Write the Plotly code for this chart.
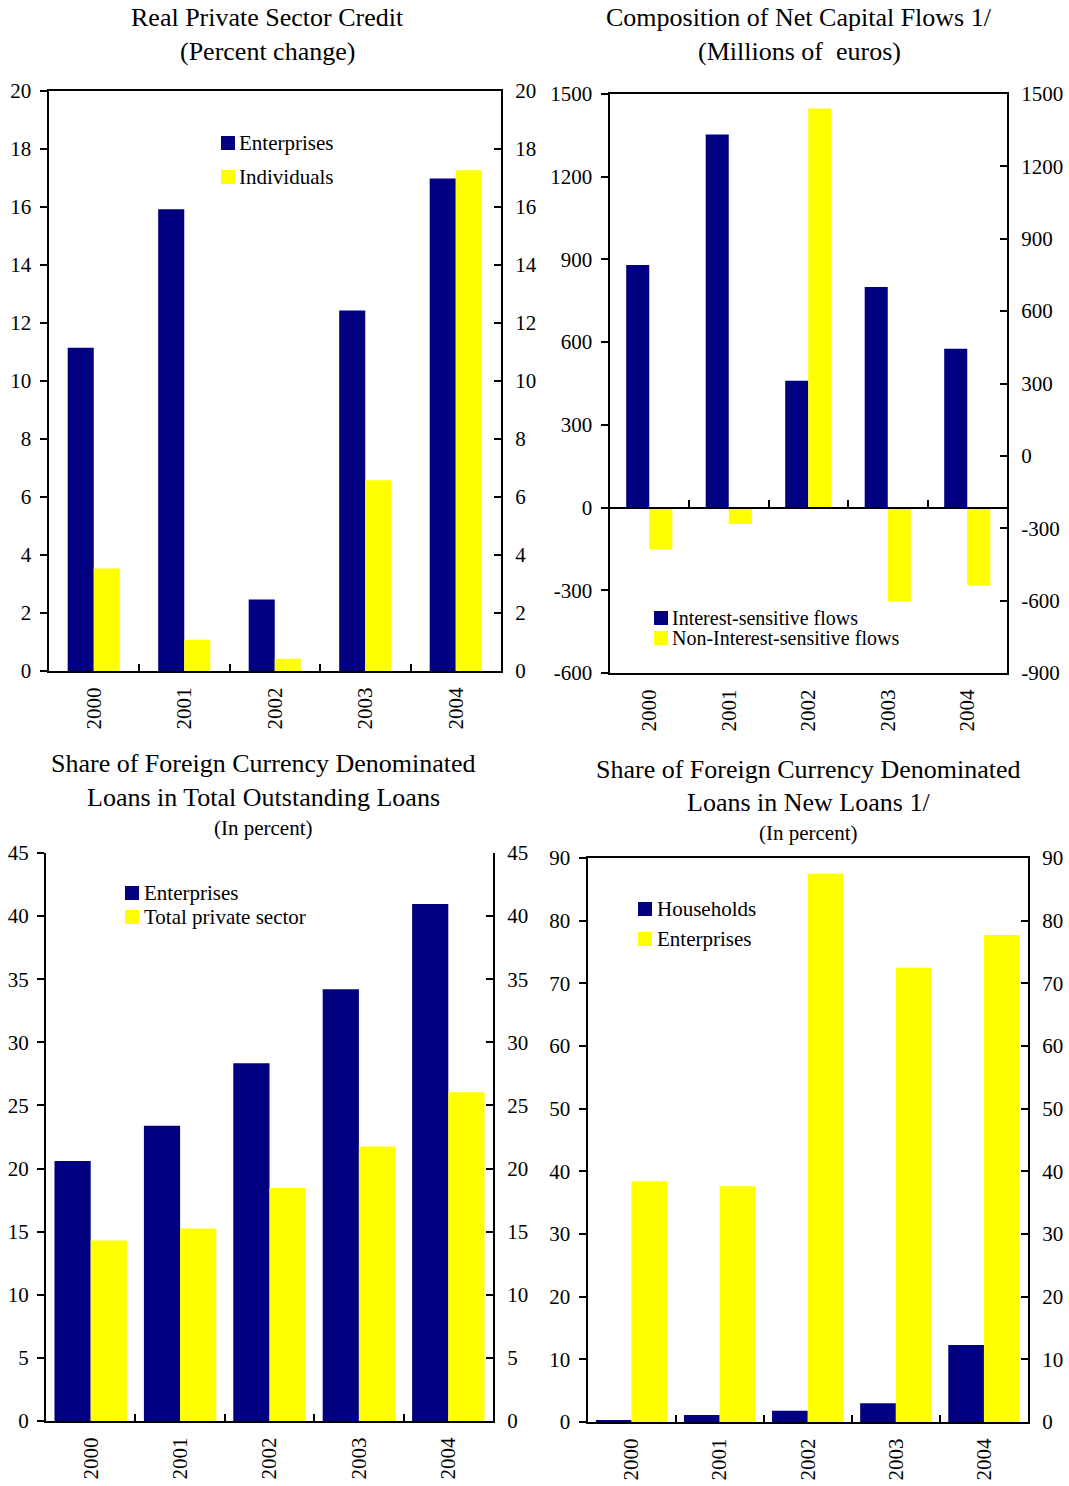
import plotly.graph_objects as go

# ---- data -------------------------------------------------------------
years = ["2000", "2001", "2002", "2003", "2004"]

# Real private sector credit (percent change)
credit_enterprises = [11.14, 15.91, 2.46, 12.42, 16.97]
credit_individuals = [3.53, 1.08, 0.42, 6.57, 17.25]

# Composition of net capital flows (millions of euros)
flows_interest = [880, 1353, 460, 800, 576]
flows_non_interest = [-152, -60, 1447, -341, -283]

# FX share of total outstanding loans (percent)
outstanding_enterprises = [20.6, 23.4, 28.35, 34.2, 40.95]
outstanding_private = [14.3, 15.25, 18.45, 21.75, 26.05]

# FX share of new loans (percent)
new_households = [0.3, 1.1, 1.8, 3.0, 12.3]
new_enterprises = [38.4, 37.6, 87.5, 72.5, 77.7]

# tick labels of the capital flows panel (plain hyphen as minus sign)
flows_left_ticks = [-600, -300, 0, 300, 600, 900, 1200, 1500]
flows_right_ticks = [-900, -600, -300, 0, 300, 600, 900, 1200, 1500]

# ---- styling ----------------------------------------------------------
W, H = 1069, 1480
NAVY = "#000080"
YELLOW = "#FFFF00"
FONT = "Liberation Serif, Times New Roman, serif"


def px_x(x):
    return x / W


def px_y(y):
    return 1 - y / H


def xd(left, right):
    return [px_x(left), px_x(right)]


def yd(top, bottom):
    return [px_y(bottom), px_y(top)]


def hyphen(v):
    return str(v).replace("\u2212", "-")


fig = go.Figure()

# panel boxes in pixels: (left, right, top, bottom)
boxes = {
    1: (48.5, 501, 90.5, 671),
    2: (609.5, 1007, 94, 673),
    3: (46, 493, 853, 1421),
    4: (587.5, 1028, 858, 1422),
}
bar_w = {1: 0.288, 2: 0.29, 3: 0.405, 4: 0.405}

panels = {
    1: (credit_enterprises, credit_individuals, "Enterprises", "Individuals"),
    2: (flows_interest, flows_non_interest,
        "Interest-sensitive flows", "Non-Interest-sensitive flows"),
    3: (outstanding_enterprises, outstanding_private,
        "Enterprises", "Total private sector"),
    4: (new_households, new_enterprises, "Households", "Enterprises"),
}

for k, (a, b, na, nb) in panels.items():
    xa = "x" if k == 1 else f"x{k}"
    ya = "y" if k == 1 else f"y{k}"
    w = bar_w[k]
    fig.add_trace(go.Bar(x=years, y=a, name=na, marker_color=NAVY,
                         marker_line_width=0, width=w, offset=-w,
                         xaxis=xa, yaxis=ya, showlegend=False))
    fig.add_trace(go.Bar(x=years, y=b, name=nb, marker_color=YELLOW,
                         marker_line_width=0, width=w, offset=0,
                         xaxis=xa, yaxis=ya, showlegend=False))
    # companion trace for the right-hand value axis
    fig.add_trace(go.Scatter(x=years, y=[None] * 5, xaxis=xa,
                             yaxis=f"y{k + 4}", showlegend=False,
                             hoverinfo="skip", mode="markers"))

# boundary ticks along the zero line of the capital flows panel
fig.add_trace(go.Scatter(x=[None], y=[None], xaxis="x5", yaxis="y2",
                         showlegend=False, hoverinfo="skip", mode="markers"))

tickfont = dict(family=FONT, size=21, color="black")

left_ranges = {1: [0, 20], 2: [-600, 1500], 3: [0, 45], 4: [0, 90]}
left_dticks = {1: 2, 2: 300, 3: 5, 4: 10}
right_ranges = {1: [0, 20], 2: [-900, 1500], 3: [0, 45], 4: [0, 90]}

layout = dict(
    width=W, height=H,
    margin=dict(l=0, r=0, t=0, b=0, autoexpand=False),
    paper_bgcolor="white", plot_bgcolor="white",
    barmode="overlay",
    font=dict(family=FONT, color="black"),
)

for k, (l, r, t, b) in boxes.items():
    xs = "xaxis" if k == 1 else f"xaxis{k}"
    ys = "yaxis" if k == 1 else f"yaxis{k}"
    yname = "y" if k == 1 else f"y{k}"
    xname = "x" if k == 1 else f"x{k}"
    layout[xs] = dict(
        domain=xd(l, r), anchor=yname, type="category",
        range=[-0.5, 4.5], showgrid=False, zeroline=False,
        showline=True, linecolor="black", linewidth=2,
        mirror=(k != 3),
        ticks="" if k == 2 else "inside", tickson="boundaries",
        ticklen=7, tickwidth=2, tickcolor="black",
        tickangle=-90, tickfont=tickfont, ticklabelstandoff=6,
        automargin=False, fixedrange=True,
    )
    layout[ys] = dict(
        domain=yd(t, b), anchor=xname, range=left_ranges[k],
        dtick=left_dticks[k], tick0=0, showgrid=False, zeroline=False,
        showline=True, linecolor="black", linewidth=2, mirror=True,
        ticks="outside", ticklen=7, tickwidth=2, tickcolor="black",
        tickfont=tickfont, ticklabelstandoff=4, automargin=False,
        fixedrange=True,
    )
    layout[f"yaxis{k + 4}"] = dict(
        overlaying=yname, anchor=xname, side="right",
        range=right_ranges[k], dtick=left_dticks[k],
        tick0=0, showgrid=False, zeroline=False,
        showline=True, linecolor="black", linewidth=2,
        ticks="inside", ticklen=7, tickwidth=2, tickcolor="black",
        tickfont=tickfont, ticklabelstandoff=8, automargin=False,
        fixedrange=True,
    )

layout["yaxis2"].update(tickmode="array", tickvals=flows_left_ticks,
                        ticktext=[hyphen(v) for v in flows_left_ticks])
layout["yaxis6"].update(tickmode="array", tickvals=flows_right_ticks,
                        ticktext=[hyphen(v) for v in flows_right_ticks])

# zero line with category boundary ticks (capital flows panel)
l2, r2, t2, b2 = boxes[2]
zero_y = t2 + (b2 - t2) * (1500 - 0) / 2100
layout["xaxis5"] = dict(
    overlaying="x2", anchor="free", position=px_y(zero_y),
    range=[-0.5, 4.5], tickvals=[0.5, 1.5, 2.5, 3.5],
    showticklabels=False, showgrid=False, zeroline=False,
    showline=True, linecolor="black", linewidth=2,
    ticks="inside", ticklen=7, tickwidth=2, tickcolor="black",
    automargin=False, fixedrange=True,
)

# ---- titles -----------------------------------------------------------
annotations = []


def title_line(text, cx, cy, size):
    annotations.append(dict(
        text=text, x=px_x(cx), y=px_y(cy), xref="paper", yref="paper",
        xanchor="center", yanchor="middle", showarrow=False,
        font=dict(family=FONT, size=size, color="black")))


title_line("Real Private Sector Credit", 267, 18, 26)
title_line("(Percent change)", 267, 52, 26)
title_line("Composition of Net Capital Flows 1/", 799, 18, 26)
title_line("(Millions of&nbsp; euros)", 799, 52, 26)
title_line("Share of Foreign Currency Denominated", 263, 763, 26)
title_line("Loans in Total Outstanding Loans", 263, 797, 26)
title_line("(In percent)", 263, 828, 21)
title_line("Share of Foreign Currency Denominated", 808, 769, 26)
title_line("Loans in New Loans 1/", 808, 803, 26)
title_line("(In percent)", 808, 833, 21)

# ---- legends ----------------------------------------------------------
shapes = []


def legend_entry(text, color, sq_left, sq_top, size, text_left, fsize=21):
    shapes.append(dict(
        type="rect", xref="paper", yref="paper",
        x0=px_x(sq_left), x1=px_x(sq_left + size),
        y0=px_y(sq_top + size), y1=px_y(sq_top),
        fillcolor=color, line=dict(width=0), layer="above"))
    annotations.append(dict(
        text=text, x=px_x(text_left), y=px_y(sq_top + size / 2),
        xref="paper", yref="paper", xanchor="left", yanchor="middle",
        showarrow=False, borderpad=0,
        font=dict(family=FONT, size=fsize, color="black")))


legend_entry("Enterprises", NAVY, 221, 136, 14, 238)
legend_entry("Individuals", YELLOW, 221, 170, 14, 238)
legend_entry("Interest-sensitive flows", NAVY, 654, 611, 14, 671, 20)
legend_entry("Non-Interest-sensitive flows", YELLOW, 654, 631, 14, 671, 20)
legend_entry("Enterprises", NAVY, 125, 886, 14, 143)
legend_entry("Total private sector", YELLOW, 125, 910, 14, 143)
legend_entry("Households", NAVY, 638, 902, 14, 656)
legend_entry("Enterprises", YELLOW, 638, 932, 14, 656)

layout["annotations"] = annotations
layout["shapes"] = shapes

fig.update_layout(**layout)
fig.write_html("out.html")
